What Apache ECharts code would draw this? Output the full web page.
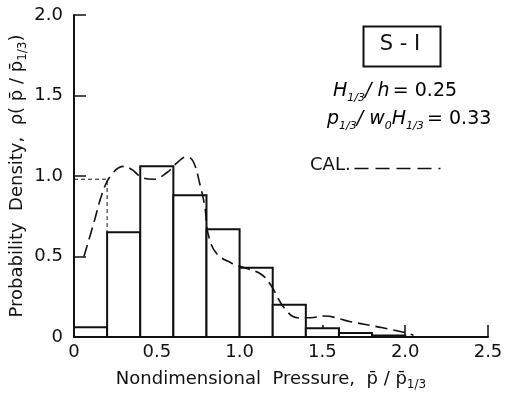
<!DOCTYPE html>
<html>
<head>
<meta charset="utf-8">
<script src="https://cdn.jsdelivr.net/npm/echarts@6/dist/echarts.min.js"></script>
<style>
  html, body { margin: 0; padding: 0; background: #fff; }
  #main { width: 505px; height: 404px; }
</style>
</head>
<body>
<div id="main"></div>
<script>
// histogram bins (left edge), width 0.2
var binStart = [0, 0.2, 0.4, 0.6, 0.8, 1.0, 1.2, 1.4, 1.6, 1.8];
var density = [0.06, 0.65, 1.06, 0.88, 0.67, 0.43, 0.2, 0.055, 0.025, 0.01];
var binWidth = 0.2;

// calculated curve (CAL.)
var calX = [0.06, 0.12, 0.17, 0.22, 0.30, 0.35, 0.41, 0.48, 0.56, 0.62, 0.68, 0.72, 0.76, 0.79, 0.81, 0.86, 0.95, 1.03, 1.13, 1.19, 1.27, 1.35, 1.43, 1.51, 1.67, 1.85, 2.0, 2.05];
var calY = [0.50, 0.71, 0.89, 1.0, 1.06, 1.04, 0.99, 0.98, 1.02, 1.08, 1.12, 1.09, 0.95, 0.81, 0.64, 0.52, 0.46, 0.43, 0.39, 0.32, 0.18, 0.12, 0.12, 0.13, 0.095, 0.06, 0.027, 0.01];

// dotted outline of first bin
var outlineX = [0, 0.2, 0.2];
var outlineY = [0.98, 0.98, 0.65];

var font = 'DejaVu Sans';
var chart = echarts.init(document.getElementById('main'));

var barData = binStart.map(function (x, i) { return [x, density[i]]; });
var calData = calX.map(function (x, i) { return [x, calY[i]]; });
var outlineData = outlineX.map(function (x, i) { return [x, outlineY[i]]; });

var subRich = {
  s: { fontSize: 11, fontFamily: font, fontStyle: 'italic', color: '#111', verticalAlign: 'bottom', lineHeight: 24 },
  i: { fontSize: 19, fontFamily: font, fontStyle: 'italic', color: '#111', lineHeight: 24 },
  n: { fontSize: 19, fontFamily: font, color: '#111', lineHeight: 24 }
};
var nameSub = { s: { fontSize: 12, fontFamily: font, color: '#111', verticalAlign: 'bottom', lineHeight: 24 } };

chart.setOption({
  animation: false,
  backgroundColor: '#fff',
  grid: { left: 74, right: 17, top: 15, bottom: 67, outerBoundsMode: 'none', containLabel: false },
  xAxis: {
    type: 'value', min: 0, max: 2.5, interval: 0.5,
    name: 'Nondimensional  Pressure,  p\u0304 / p\u0304{s|1/3}',
    nameLocation: 'middle', nameGap: 30,
    nameTextStyle: {
      fontFamily: font, fontSize: 18, color: '#111', padding: [0, 20, 0, 0],
      rich: nameSub
    },
    axisLine: { lineStyle: { color: '#111', width: 2 } },
    axisTick: { inside: true, length: 12, lineStyle: { color: '#111', width: 1.5 } },
    axisLabel: {
      fontFamily: font, fontSize: 18, color: '#111', margin: 6,
      formatter: function (v) { return v === 0 ? '0' : v.toFixed(1); }
    },
    splitLine: { show: false }
  },
  yAxis: {
    type: 'value', min: 0, max: 2, interval: 0.5,
    name: 'Probability  Density,  \u03c1( p\u0304 / p\u0304{s|1/3})',
    nameLocation: 'middle', nameGap: 45, nameRotate: 90, nameMoveOverlap: false,
    nameTextStyle: {
      fontFamily: font, fontSize: 18, color: '#111',
      rich: nameSub
    },
    axisLine: { show: true, lineStyle: { color: '#111', width: 2 } },
    axisTick: { show: true, inside: true, length: 12, lineStyle: { color: '#111', width: 1.5 } },
    axisLabel: {
      fontFamily: font, fontSize: 18, color: '#111', margin: 11,
      formatter: function (v) { return v === 0 ? '0' : v.toFixed(1); }
    },
    splitLine: { show: false }
  },
  series: [
    {
      type: 'custom',
      data: barData,
      z: 2,
      renderItem: function (params, api) {
        var x0 = api.value(0);
        var p0 = api.coord([x0, api.value(1)]);
        var p1 = api.coord([x0 + binWidth, 0]);
        return {
          type: 'rect',
          shape: { x: p0[0], y: p0[1], width: p1[0] - p0[0], height: p1[1] - p0[1] },
          style: { fill: '#fff', stroke: '#111', lineWidth: 2 }
        };
      }
    },
    {
      type: 'line',
      data: outlineData,
      showSymbol: false,
      z: 3,
      lineStyle: { color: '#111', width: 1, type: [4, 3] }
    },
    {
      type: 'line',
      data: calData,
      smooth: 0.4,
      showSymbol: false,
      z: 4,
      lineStyle: { color: '#111', width: 1.6, type: [12, 6] }
    }
  ],
  graphic: [
    {
      type: 'rect', left: 361, top: 24,
      shape: { width: 77, height: 40 },
      style: { fill: 'none', stroke: '#111', lineWidth: 2 }
    },
    {
      type: 'text', x: 400, y: 45,
      style: { text: 'S - I', fontFamily: font, fontSize: 21, fill: '#111', align: 'center', verticalAlign: 'middle' }
    },
    {
      type: 'text', left: 333, top: 82,
      style: { text: '{i|H}{s|1/3}{i|/ h} {n|= 0.25}', rich: subRich }
    },
    {
      type: 'text', left: 327, top: 110,
      style: { text: '{i|p}{s|1/3}{i|/ w}{s|0}{i|H}{s|1/3} {n|= 0.33}', rich: subRich }
    },
    {
      type: 'text', left: 310, top: 156,
      style: { text: 'CAL.', fontFamily: font, fontSize: 18, fill: '#111' }
    },
    {
      type: 'line', left: 352, top: 166,
      shape: { x1: 0, y1: 0, x2: 86, y2: 0 },
      style: { stroke: '#111', lineWidth: 1.6, lineDash: [14, 7] }
    }
  ]
});
</script>
</body>
</html>
